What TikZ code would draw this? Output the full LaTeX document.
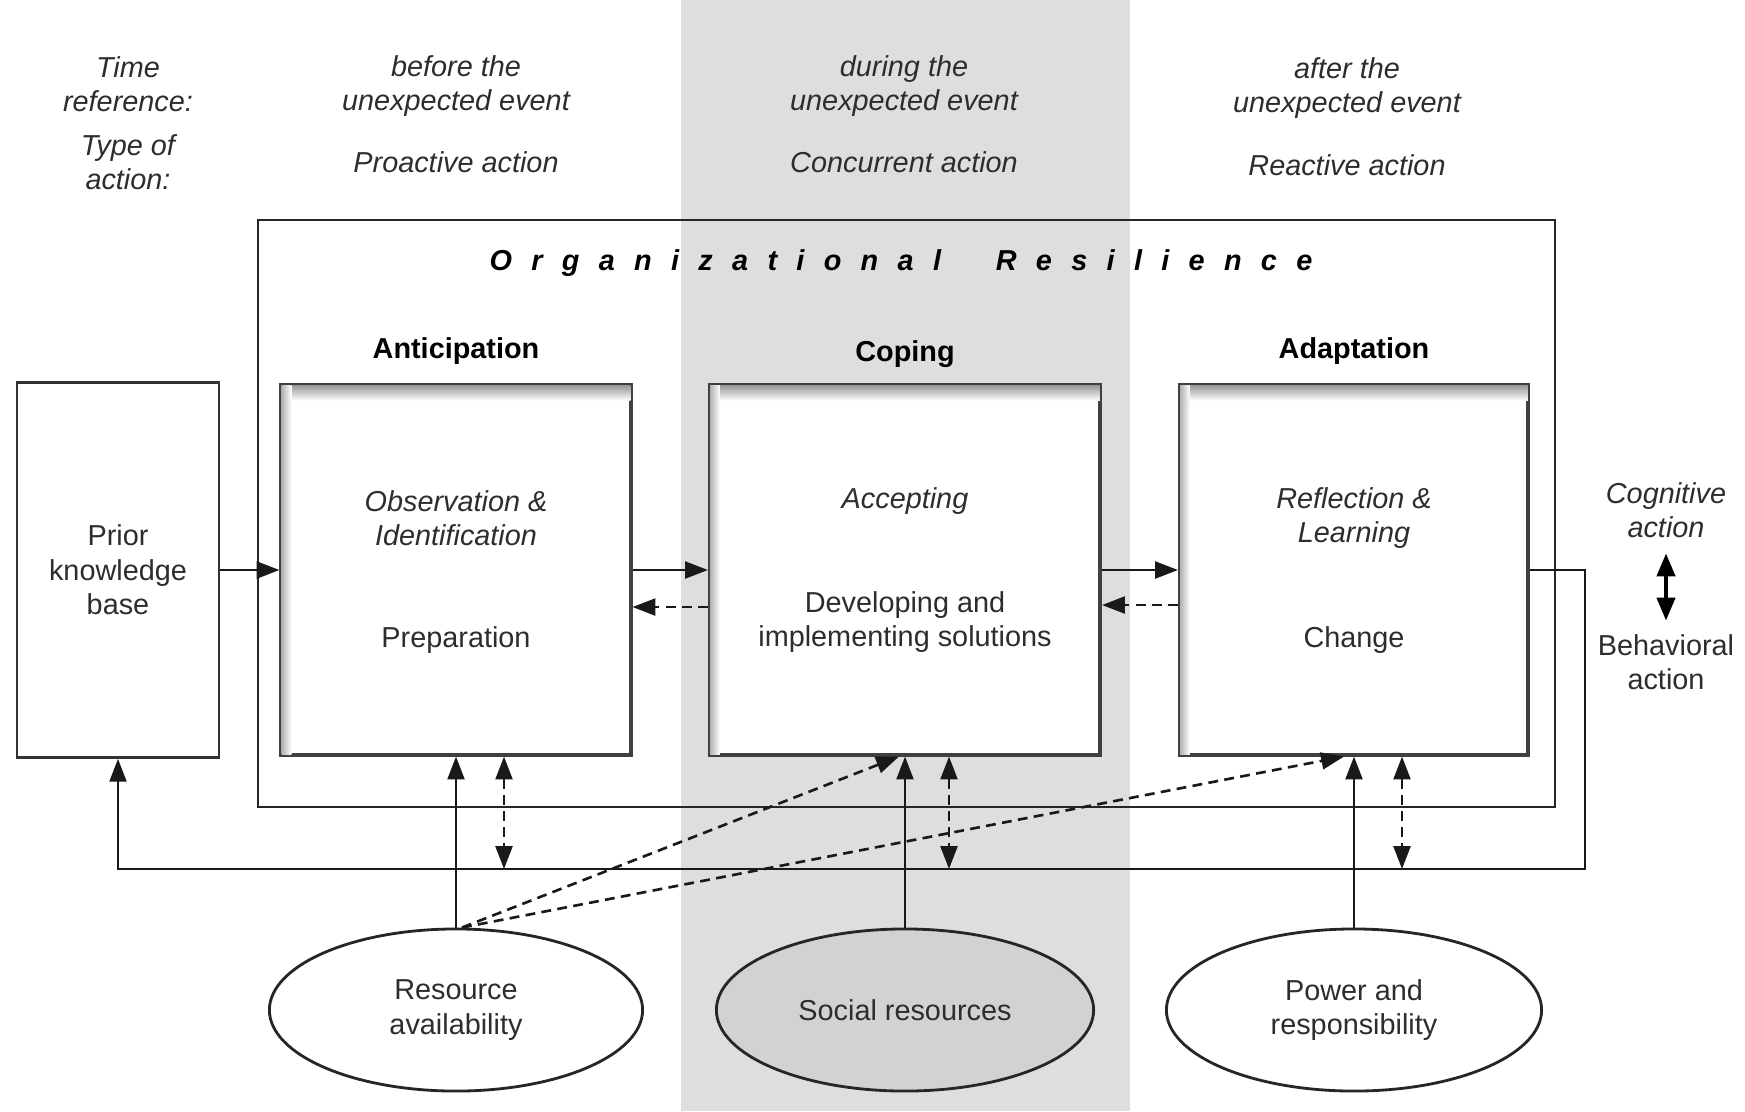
\documentclass[tikz,border=0pt]{standalone}
\usepackage{fontspec}
\setmainfont{Liberation Sans}
\usepackage{tikz}
\usetikzlibrary{positioning,arrows.meta,shapes.geometric}
\usepackage{xcolor}
\definecolor{bandgray}{RGB}{222,222,222}
\definecolor{socgray}{RGB}{210,210,210}
\definecolor{inkgray}{RGB}{45,45,45}
\makeatletter
\newcommand\spreadletters[1]{\@tfor\sl@tok:=#1\do{\sl@tok\hspace{0.67em}}\unskip}
\makeatother

\begin{document}
\begin{tikzpicture}[x=0.01cm,y=-0.01cm,
  font=\fontsize{8.2}{9.8}\selectfont,
  txt/.style={text=inkgray,align=center,inner sep=0pt},
  itx/.style={txt,font=\fontsize{8.2}{9.8}\selectfont\itshape},
  head/.style={txt,text=black,font=\fontsize{8.2}{9.8}\selectfont\bfseries},
  kbox/.style={rectangle,draw=black!80,line width=0.7pt,fill=white,
    minimum width=2.02cm,minimum height=3.75cm,txt},
  pbox/.style={rectangle,draw=black!75,line width=1.1pt,fill=white,
    minimum height=3.69cm,inner sep=0pt},
  rsrc/.style={ellipse,draw=black!85,line width=0.8pt,fill=white,
    minimum width=3.73cm,minimum height=1.62cm,txt},
  arr/.style={-{Triangle[length=6.5pt,width=4.8pt]},line width=0.75pt,black!90},
  darr/.style={arr,dash pattern=on 2.8pt off 1.8pt},
  dbl/.style={{Triangle[length=6.5pt,width=4.8pt]}-{Triangle[length=6.5pt,width=4.8pt]},
    line width=0.75pt,black!90,dash pattern=on 2.8pt off 1.8pt},
  sdbl/.style={{Triangle[length=6.5pt,width=5.2pt]}-{Triangle[length=6.5pt,width=5.2pt]},
    line width=1pt,black}
]
\useasboundingbox (0,0) rectangle (1745,1111);
\fill[bandgray] (681,0) rectangle (1130,1111);

\node[itx] (tref) at (128,84) {Time\\reference:};
\node[itx] (tact) at (128,162) {Type of\\action:};
\node[itx] (bef) at (456,86) {before the\\unexpected event};
\node[itx] (pro) at (456,162) {Proactive action};
\node[itx] (dur) at (904,86) {during the\\unexpected event};
\node[itx] (con) at (904,162) {Concurrent action};
\node[itx] (aft) at (1347,88) {after the\\unexpected event};
\node[itx] (rea) at (1347,165) {Reactive action};

\node[draw=black!85,line width=0.6pt,minimum width=12.97cm,minimum height=5.87cm] (org) at (906.5,513.5) {};
\node[head,font=\fontsize{8.2}{9.8}\selectfont\bfseries\itshape] (orgt) at (901,263)
  {\spreadletters{Organizational}\hspace{1.9em}\spreadletters{Resilience}};

\node[kbox] (prior) at (118,570) {Prior\\knowledge\\base};
\node[pbox,minimum width=3.49cm] (ant) at (456,570) {};
\node[pbox,minimum width=3.90cm] (cop) at (905,570) {};
\node[pbox,minimum width=3.48cm] (ada) at (1354,570) {};
\foreach \b in {ant,cop,ada}{
  \shade[top color=black!40,bottom color=white] ([xshift=0.6pt,yshift=-0.6pt]\b.north west) rectangle ([xshift=-0.6pt,yshift=-0.17cm]\b.north east);
  \shade[left color=black!30,right color=white] ([xshift=0.6pt,yshift=-0.6pt]\b.north west) rectangle ([xshift=0.12cm,yshift=0.6pt]\b.south west);
}
\node[head,above=0.18cm of ant] (anth) {Anticipation};
\node[head,above=0.15cm of cop] (coph) {Coping};
\node[head,above=0.18cm of ada] (adah) {Adaptation};

\node[itx] (antc) at (456,518) {Observation \&\\Identification};
\node[txt] (antb) at (456,640) {Preparation};
\node[itx] (copc) at (905,501) {Accepting};
\node[txt] (copb) at (905,622) {Developing and\\implementing solutions};
\node[itx] (adac) at (1354,518) {Reflection \&\\Learning};
\node[txt] (adab) at (1354,640) {Change};

\node[rsrc] (ra) at (456,1010) {Resource\\availability};
\node[rsrc,fill=socgray,minimum width=3.77cm] (sr) at (905,1010) {Social resources};
\node[rsrc,minimum width=3.75cm] (pr) at (1354,1010) {Power and\\responsibility};

\node[itx] (cog) at (1666,510) {Cognitive\\action};
\node[txt] (beh) at (1666,662) {Behavioral\\action};
\draw[sdbl,shorten <=0.15cm,shorten >=0.13cm] (cog) -- (beh);

\coordinate (fbc) at (1585,869);
\coordinate (fb1) at (504,869);
\coordinate (fb2) at (949,869);
\coordinate (fb3) at (1402,869);

\draw[arr] (prior) -- (ant);
\draw[arr] (ant) -- (cop);
\draw[arr] (cop) -- (ada);
\draw[darr] ([yshift=-0.37cm]cop.west) -- ([yshift=-0.37cm]ant.east);
\draw[darr] ([yshift=-0.35cm]ada.west) -- ([yshift=-0.35cm]cop.east);
\draw[arr] (ada.east) -| (fbc) -| (prior.south);

\draw[dbl] (ant.south -| fb1) -- (fb1);
\draw[dbl] (cop.south -| fb2) -- (fb2);
\draw[dbl] (ada.south -| fb3) -- (fb3);

\draw[arr] (ra) -- (ant);
\draw[arr] (sr) -- (cop);
\draw[arr] (pr) -- (ada);
\draw[darr] ([xshift=0.06cm]ra.north) -- ([xshift=-0.06cm]cop.south);
\draw[darr] ([xshift=0.06cm]ra.north) -- ([xshift=-0.1cm]ada.south);
\end{tikzpicture}
\end{document}
